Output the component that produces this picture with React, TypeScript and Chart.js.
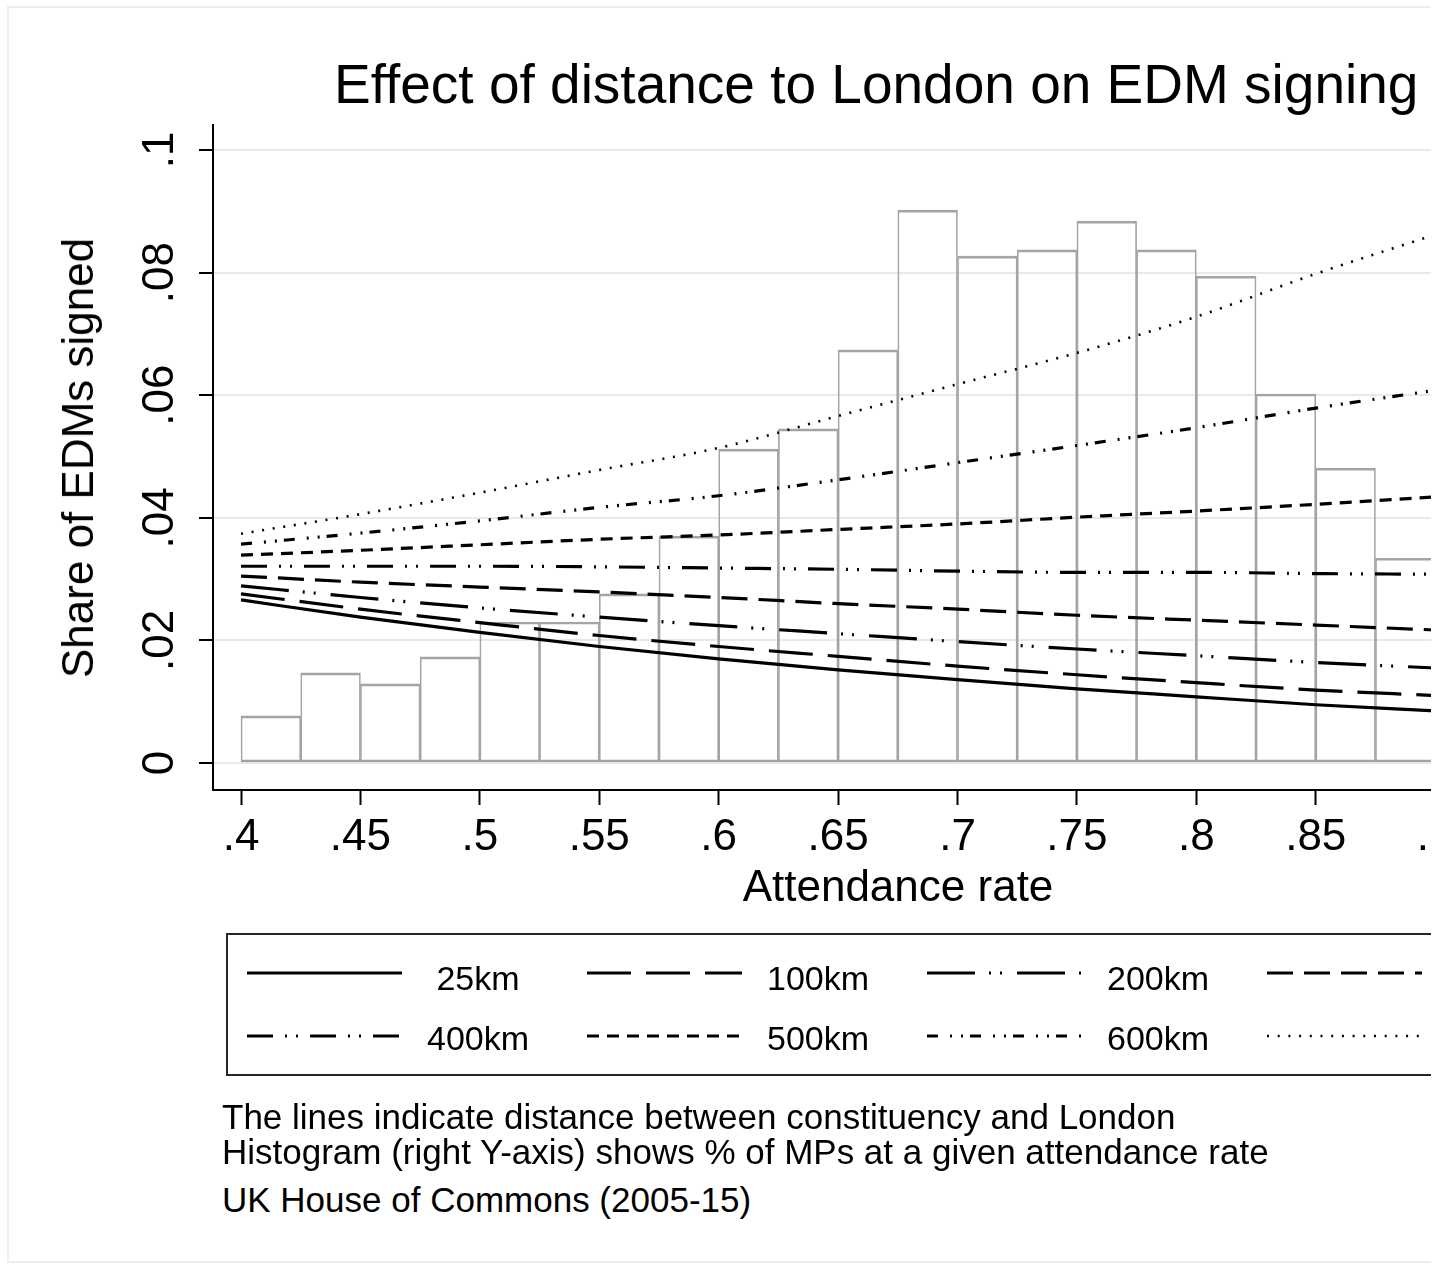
import React, { useEffect, useRef } from "react";
import { Chart, registerables } from "chart.js";

Chart.register(...registerables);

// ---------------- data ----------------
const attendance = [0.4, 0.45, 0.5, 0.55, 0.6, 0.65, 0.7, 0.75, 0.8, 0.85, 0.9];

const distanceLabels = ["25km", "100km", "200km", "300km", "400km", "500km", "600km", "700km"];

const share25km = [0.0266, 0.0238, 0.0213, 0.019, 0.017, 0.0152, 0.0136, 0.0121, 0.0108, 0.0095, 0.0085];
const share100km = [0.0276, 0.0251, 0.0229, 0.0208, 0.019, 0.0174, 0.0158, 0.0144, 0.0131, 0.0119, 0.011];
const share200km = [0.0289, 0.027, 0.0253, 0.0238, 0.0224, 0.0211, 0.0198, 0.0186, 0.0175, 0.0164, 0.0155];
const share300km = [0.0305, 0.0295, 0.0287, 0.0279, 0.027, 0.026, 0.0251, 0.0241, 0.0233, 0.0225, 0.0217];
const share400km = [0.0321, 0.0321, 0.0321, 0.032, 0.0318, 0.0316, 0.0313, 0.0311, 0.0311, 0.0309, 0.0308];
const share500km = [0.0339, 0.0347, 0.0356, 0.0365, 0.0372, 0.0381, 0.039, 0.0401, 0.0411, 0.0422, 0.0434];
const share600km = [0.0357, 0.0375, 0.0395, 0.0417, 0.0436, 0.0462, 0.049, 0.0518, 0.0547, 0.0579, 0.0608];
const share700km = [0.0374, 0.0406, 0.0441, 0.0478, 0.0514, 0.0566, 0.0618, 0.0669, 0.0728, 0.0798, 0.0862];

const shareSeries = [share25km, share100km, share200km, share300km, share400km, share500km, share600km, share700km];

// histogram: left edges of bins (width 0.025) and bar heights
const histBinWidth = 0.025;
const histBinLeft = [0.4, 0.425, 0.45, 0.475, 0.5, 0.525, 0.55, 0.575, 0.6, 0.625, 0.65, 0.675, 0.7, 0.725, 0.75, 0.775, 0.8, 0.825, 0.85, 0.875];
const histHeight = [0.0077, 0.0147, 0.0129, 0.0173, 0.023, 0.023, 0.0276, 0.037, 0.0512, 0.0545, 0.0674, 0.0902, 0.0827, 0.0837, 0.0884, 0.0837, 0.0794, 0.0602, 0.0481, 0.0334];

const xTickValues = [0.4, 0.45, 0.5, 0.55, 0.6, 0.65, 0.7, 0.75, 0.8, 0.85, 0.9, 0.95];
const yTickValues = [0, 0.02, 0.04, 0.06, 0.08, 0.1];

const titleText = "Effect of distance to London on EDM signing";
const yTitleText = "Share of EDMs signed";
const xTitleText = "Attendance rate";
const noteLines = [
  "The lines indicate distance between constituency and London",
  "Histogram (right Y-axis) shows % of MPs at a given attendance rate",
  "UK House of Commons (2005-15)",
];

// ---------------- styles ----------------
const FONT = '"Liberation Sans", Arial, Helvetica, sans-serif';
const dashPatterns: number[][] = [
  [],
  [44, 15],
  [48, 14, 2, 9, 2, 15],
  [26, 11],
  [26, 12, 2, 9, 2, 12],
  [12, 8],
  [11, 12, 2, 9, 2, 7],
  [2, 8.7],
];
const lineWidths = [3.2, 3.2, 3.2, 3.2, 3.2, 3.2, 3.2, 2.6];

// scale geometry (x: .4 at 241px, 2388 px/unit; y: 0 at 763px, 6130 px/unit)
const X_MIN = 0.4 - 28 / 2388;
const X_MAX = 1.0;
const Y_MIN = -27 / 6130;
const Y_MAX = 0.1 + 25 / 6130;

const fmtTick = (v: number) => {
  if (Math.abs(v) < 1e-9) return "0";
  return String(+v.toFixed(3)).replace(/^0\./, ".");
};

export default function App() {
  const canvasRef = useRef<HTMLCanvasElement>(null);

  useEffect(() => {
    const canvas = canvasRef.current;
    if (!canvas) return;

    const lineDatasets = shareSeries.map((series, i) => ({
      type: "line" as const,
      label: distanceLabels[i],
      data: attendance.map((x, j) => ({ x, y: series[j] })),
      borderColor: "#000",
      borderWidth: lineWidths[i],
      borderDash: dashPatterns[i],
      borderCapStyle: "butt" as const,
      pointRadius: 0,
      fill: false,
      cubicInterpolationMode: "monotone" as const,
      order: 0,
    }));

    const barDataset = {
      type: "bar" as const,
      label: "Histogram",
      data: histBinLeft.map((l, i) => ({ x: l + histBinWidth / 2, y: histHeight[i] })),
      backgroundColor: "rgba(255,255,255,0)",
      borderColor: "#a4a4a4",
      borderWidth: { top: 2, bottom: 2, left: 1, right: 1 },
      borderSkipped: false,
      barPercentage: 1,
      categoryPercentage: 1,
      order: 1,
    };

    const chart = new Chart(canvas, {
      type: "line",
      data: { datasets: [...lineDatasets, barDataset] as any },
      options: {
        responsive: false,
        animation: false,
        devicePixelRatio: 1,
        layout: { padding: { left: 0, top: 125, right: 26, bottom: 40 } },
        plugins: {
          legend: { display: false },
          tooltip: { enabled: false },
          title: { display: false },
        },
        scales: {
          x: {
            type: "linear",
            min: X_MIN,
            max: X_MAX,
            offset: false,
            bounds: "data",
            afterBuildTicks: (s: any) => {
              s.ticks = xTickValues.map((v) => ({ value: v }));
            },
            afterFit: (s: any) => {
              s.height = 70;
            },
            grid: {
              offset: false,
              drawOnChartArea: false,
              drawTicks: true,
              tickLength: 15,
              tickWidth: 2,
              tickColor: "#000",
              color: "#000",
            },
            border: { display: true, color: "#000", width: 2 },
            ticks: {
              autoSkip: false,
              maxRotation: 0,
              minRotation: 0,
              padding: 6,
              color: "#000",
              font: { family: FONT, size: 44 },
              callback: (v: any) => fmtTick(Number(v)),
            },
          },
          y: {
            type: "linear",
            min: Y_MIN,
            max: Y_MAX,
            bounds: "data",
            afterBuildTicks: (s: any) => {
              s.ticks = yTickValues.map((v) => ({ value: v }));
            },
            afterFit: (s: any) => {
              s.width = 213;
            },
            grid: {
              offset: false,
              drawOnChartArea: true,
              color: "#e3ebee",
              lineWidth: 2,
              drawTicks: true,
              tickLength: 14,
              tickWidth: 2,
              tickColor: "#000",
            },
            border: { display: true, color: "#000", width: 2 },
            ticks: {
              autoSkip: false,
              minRotation: 90,
              maxRotation: 90,
              crossAlign: "center",
              padding: 8,
              color: "#000",
              font: { family: FONT, size: 44 },
              callback: (v: any) => fmtTick(Number(v)),
            },
          },
        },
      } as any,
    });

    return () => chart.destroy();
  }, []);

  const legendColX = (k: number) => 247 + 340 * k;
  const legendRowY = [973, 1036];
  const legendLabelTop = [961, 1021];

  return (
    <div
      style={{
        position: "absolute",
        left: 0,
        top: 0,
        width: 1431,
        height: 1266,
        overflow: "hidden",
        background: "#fff",
        fontFamily: FONT,
        color: "#000",
      }}
    >
      <div
        style={{
          position: "absolute",
          left: 7,
          top: 6,
          width: 1700,
          height: 1257,
          border: "2px solid #ededed",
          boxSizing: "border-box",
        }}
      />
      <canvas
        ref={canvasRef}
        width={1700}
        height={900}
        style={{ position: "absolute", left: 0, top: 0, width: 1700, height: 900 }}
      />
      <div
        style={{
          position: "absolute",
          left: 334,
          top: 57,
          fontSize: 55,
          lineHeight: "55px",
          whiteSpace: "nowrap",
        }}
      >
        {titleText}
      </div>
      <div
        style={{
          position: "absolute",
          left: 78,
          top: 458,
          fontSize: 44,
          lineHeight: "44px",
          whiteSpace: "nowrap",
          transform: "translate(-50%, -50%) rotate(-90deg)",
        }}
      >
        {yTitleText}
      </div>
      <div
        style={{
          position: "absolute",
          left: 898,
          top: 864,
          fontSize: 44,
          lineHeight: "44px",
          whiteSpace: "nowrap",
          transform: "translateX(-50%)",
        }}
      >
        {xTitleText}
      </div>

      {/* legend */}
      <div
        style={{
          position: "absolute",
          left: 226,
          top: 933,
          width: 1500,
          height: 143,
          border: "2px solid #262626",
          boxSizing: "border-box",
        }}
      />
      <svg
        width={1700}
        height={200}
        style={{ position: "absolute", left: 0, top: 900 }}
      >
        {distanceLabels.map((lab, i) => {
          const col = i % 4;
          const row = Math.floor(i / 4);
          const y = legendRowY[row] - 900;
          return (
            <line
              key={lab}
              x1={legendColX(col)}
              x2={legendColX(col) + 155}
              y1={y}
              y2={y}
              stroke="#000"
              strokeWidth={lineWidths[i]}
              strokeDasharray={dashPatterns[i].length ? dashPatterns[i].join(" ") : undefined}
            />
          );
        })}
      </svg>
      {distanceLabels.map((lab, i) => {
        const col = i % 4;
        const row = Math.floor(i / 4);
        return (
          <div
            key={lab}
            style={{
              position: "absolute",
              left: 478 + 340 * col,
              top: legendLabelTop[row],
              fontSize: 34,
              lineHeight: "34px",
              whiteSpace: "nowrap",
              transform: "translateX(-50%)",
            }}
          >
            {lab}
          </div>
        );
      })}

      {/* notes */}
      {noteLines.map((t, i) => (
        <div
          key={i}
          style={{
            position: "absolute",
            left: 222,
            top: [1099, 1134, 1182][i],
            fontSize: 35,
            lineHeight: "35px",
            whiteSpace: "nowrap",
          }}
        >
          {t}
        </div>
      ))}
    </div>
  );
}
